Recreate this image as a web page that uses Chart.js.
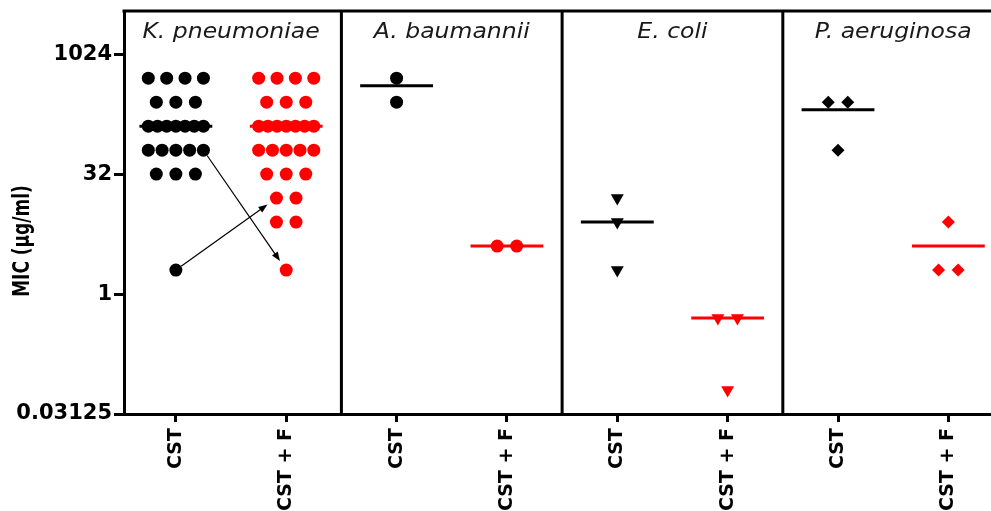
<!DOCTYPE html>
<html>
<head>
<meta charset="utf-8">
<script src="https://cdn.jsdelivr.net/npm/chart.js@4"></script>
<style>
  body{margin:0;background:#fff;overflow:hidden;}
  #wrap{width:1000px;height:511px;position:relative;}
</style>
</head>
<body>
<div id="wrap"><canvas id="myChart"></canvas></div>
<script>
let categories = ['CST','CST + F','CST','CST + F','CST','CST + F','CST','CST + F'];
let species = ['K. pneumoniae','A. baumannii','E. coli','P. aeruginosa'];
let yTicks = [0.03125, 1, 32, 1024];

// MIC (ug/ml) per isolate, one array per column
let kpCst  = [512,512,512,512,256,256,256,128,128,128,128,128,128,128,64,64,64,64,64,32,32,32,2];
let kpCstF = [512,512,512,512,256,256,256,128,128,128,128,128,128,128,64,64,64,64,64,32,32,32,16,16,8,8,2];
let abCst  = [512,256];
let abCstF = [4,4];
let ecCst  = [16,8,2];
let ecCstF = [0.5,0.5,0.0625];
let paCst  = [256,256,64];
let paCstF = [8,2,2];
// horizontal line drawn in each column
let centerLines = [128,128,410,4,8,0.5,205,4];
// K. pneumoniae isolates that moved (CST -> CST + F)
let arrowFrom = [64,2];
let arrowTo   = [2,16];

let columns = [kpCst,kpCstF,abCst,abCstF,ecCst,ecCstF,paCst,paCstF];
let shapes = ['circle','circle','circle','circle','triangle','triangle','rectRot','rectRot'];
let radii  = [6.5,6.5,6.5,6.5,7.5,7.5,6.5,6.5];
let pxPerCol = 110.1;

function spread(values, col){
  let pts = [];
  let groups = {};
  values.forEach(v => { groups[v] = (groups[v] || 0) + 1; });
  Object.keys(groups).forEach(k => {
    let n = groups[k];
    let gap = n > 1 ? Math.min(19.5, 55/(n-1)) : 0;
    for(let i=0;i<n;i++){
      pts.push({x: col + (i-(n-1)/2)*gap/pxPerCol, y: Number(k)});
    }
  });
  return pts;
}

let points = columns.map((vals,i) => spread(vals, i+1));

let datasets = [];
columns.forEach((vals,i) => {
  let color = i % 2 ? '#ff0000' : '#000000';
  datasets.push({
    type: 'scatter',
    data: points[i],
    pointStyle: shapes[i],
    pointRotation: shapes[i] == 'triangle' ? 180 : 0,
    pointRadius: radii[i],
    backgroundColor: color,
    borderColor: color,
    borderWidth: 0
  });
  datasets.push({
    type: 'line',
    data: [{x: i+1-0.33, y: centerLines[i]}, {x: i+1+0.33, y: centerLines[i]}],
    borderColor: color,
    borderWidth: 3,
    pointRadius: 0
  });
});

function nearest(pts, y, x){
  let best = null;
  pts.forEach(p => {
    if(p.y == y && (!best || Math.abs(p.x-x) < Math.abs(best.x-x))) best = p;
  });
  return best;
}

let framePlugin = {
  id: 'frame',
  afterDatasetsDraw(chart){
    let ctx = chart.ctx;
    let a = chart.chartArea;
    let xs = chart.scales.x, ys = chart.scales.y;
    ctx.save();
    ctx.strokeStyle = '#000';
    ctx.lineWidth = 3;
    ctx.beginPath();
    ctx.moveTo(a.left-1.5, a.top);
    ctx.lineTo(a.right, a.top);
    [2.5,4.5,6.5].forEach(v => {
      let px = xs.getPixelForValue(v);
      ctx.moveTo(px, a.top);
      ctx.lineTo(px, a.bottom);
    });
    ctx.stroke();

    // panel titles
    ctx.fillStyle = '#1a1a1a';
    ctx.font = 'oblique 21px "DejaVu Sans"';
    ctx.textAlign = 'center';
    ctx.textBaseline = 'middle';
    species.forEach((s,i) => {
      ctx.save();
      ctx.translate(xs.getPixelForValue(2*i+1.5), a.top + 22);
      ctx.scale(1.12, 1);
      ctx.fillText(s, 0, 0);
      ctx.restore();
    });

    // y axis title
    ctx.save();
    ctx.translate(23, 241);
    ctx.rotate(-Math.PI/2);
    ctx.scale(1, 1.3);
    ctx.fillStyle = '#000';
    ctx.font = 'bold 17px "DejaVu Sans"';
    ctx.fillText('MIC (\u03bcg/ml)', 0, 0);
    ctx.restore();

    // arrows
    ctx.strokeStyle = '#000';
    ctx.fillStyle = '#000';
    ctx.lineWidth = 1.2;
    arrowFrom.forEach((fv,i) => {
      let tv = arrowTo[i];
      let t0 = points[1].find(p => p.y == tv);
      let src = nearest(points[0], fv, t0.x);
      let dst = nearest(points[1], tv, src.x);
      let x1 = xs.getPixelForValue(src.x), y1 = ys.getPixelForValue(src.y);
      let x2 = xs.getPixelForValue(dst.x), y2 = ys.getPixelForValue(dst.y);
      let len = Math.hypot(x2-x1, y2-y1);
      let ux = (x2-x1)/len, uy = (y2-y1)/len;
      let sx = x1 + ux*6.5, sy = y1 + uy*6.5;
      let ex = x2 - ux*11, ey = y2 - uy*11;
      ctx.beginPath();
      ctx.moveTo(sx, sy);
      ctx.lineTo(ex - ux*6, ey - uy*6);
      ctx.stroke();
      ctx.beginPath();
      ctx.moveTo(ex, ey);
      ctx.lineTo(ex - ux*9 - uy*3.5, ey - uy*9 + ux*3.5);
      ctx.lineTo(ex - ux*9 + uy*3.5, ey - uy*9 - ux*3.5);
      ctx.closePath();
      ctx.fill();
    });
    ctx.restore();
  }
};

let ctx = document.getElementById('myChart');
let chart = new Chart(ctx, {
  type: 'scatter',
  data: { datasets: datasets },
  options: {
    responsive: true,
    maintainAspectRatio: false,
    animation: false,
    events: [],
    layout: { padding: { top: 11, right: 0, bottom: 0, left: 0 } },
    plugins: { legend: { display: false }, tooltip: { enabled: false } },
    scales: {
      x: {
        type: 'linear',
        bounds: 'data',
        min: 0.53,
        max: 8.4,
        afterBuildTicks: s => { s.ticks = categories.map((c,i) => ({value: i+1})); },
        afterFit: s => { s.height = 97; s.paddingLeft = 0; s.paddingRight = 0; },
        ticks: {
          autoSkip: false,
          minRotation: 90,
          maxRotation: 90,
          padding: 6,
          color: '#000',
          font: { family: 'DejaVu Sans', size: 19, weight: 'bold' },
          callback: v => categories[v-1]
        },
        grid: { drawOnChartArea: false, tickLength: 8, tickWidth: 3, tickColor: '#000' },
        border: { color: '#000', width: 3 }
      },
      y: {
        type: 'logarithmic',
        bounds: 'data',
        min: 0.03125,
        max: Math.pow(2, 11.8),
        afterBuildTicks: s => { s.ticks = yTicks.map(v => ({value: v})); },
        afterFit: s => { s.width = 124; s.paddingTop = 0; s.paddingBottom = 0; },
        ticks: {
          autoSkip: false,
          padding: 2,
          color: '#000',
          font: { family: 'DejaVu Sans', size: 21, weight: 'bold' },
          callback: v => String(v)
        },
        grid: { drawOnChartArea: false, tickLength: 10, tickWidth: 3, tickColor: '#000' },
        border: { color: '#000', width: 3 }
      }
    }
  },
  plugins: [framePlugin]
});
</script>
</body>
</html>
